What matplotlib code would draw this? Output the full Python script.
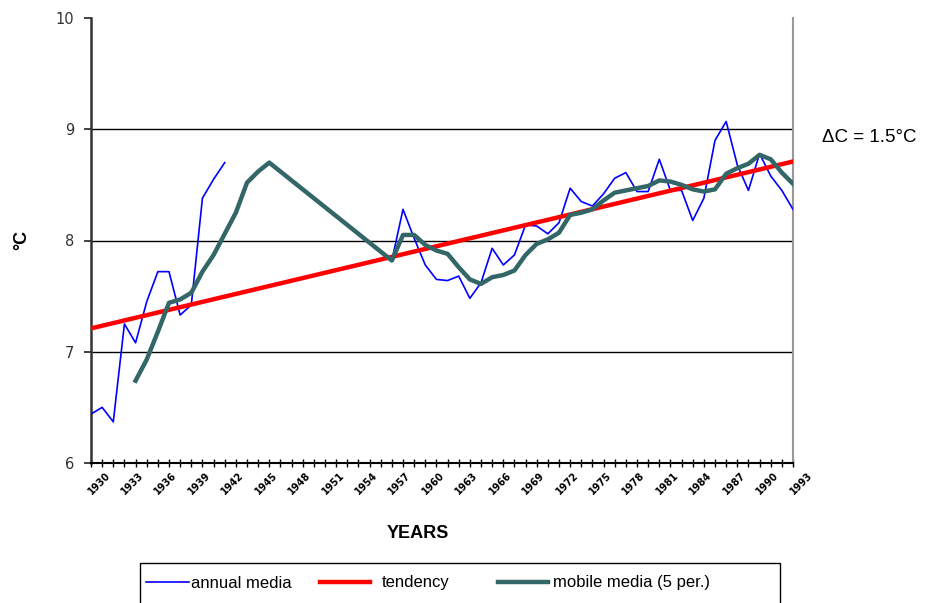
import numpy as np
import matplotlib
matplotlib.use("Agg")
import matplotlib.pyplot as plt
from matplotlib.lines import Line2D
from matplotlib.patches import Rectangle
from matplotlib.transforms import ScaledTranslation

# annual mean temperature (gap 1943-1956)
years_a = list(range(1930, 1943)) + list(range(1957, 1994))
annual = [6.44, 6.50, 6.37, 7.25, 7.08, 7.45, 7.72, 7.72, 7.33, 7.42, 8.38, 8.55, 8.70,
          7.82, 8.28, 8.02, 7.78, 7.65, 7.64, 7.68, 7.48, 7.62, 7.93, 7.78, 7.87, 8.14,
          8.13, 8.06, 8.16, 8.47, 8.35, 8.31, 8.42, 8.56, 8.61, 8.44, 8.44, 8.73, 8.45,
          8.45, 8.18, 8.38, 8.90, 9.07, 8.68, 8.45, 8.78, 8.58, 8.45, 8.28]

# 5-year moving average (drawn straight across the gap)
years_m = list(range(1934, 1947)) + list(range(1957, 1994))
mobile = [6.74, 6.93, 7.18, 7.44, 7.47, 7.53, 7.72, 7.87, 8.06, 8.25, 8.52, 8.62, 8.70,
          7.82, 8.05, 8.05, 7.96, 7.91, 7.88, 7.76, 7.65, 7.61, 7.67, 7.69, 7.73, 7.87,
          7.97, 8.01, 8.07, 8.23, 8.25, 8.28, 8.36, 8.43, 8.45, 8.47, 8.49, 8.54, 8.53,
          8.50, 8.46, 8.44, 8.46, 8.60, 8.65, 8.69, 8.77, 8.73, 8.61, 8.51]

# linear trend end points
years_t = [1930, 1993]
trend = [7.21, 8.71]

label_years = list(range(1930, 1994, 3))

# put NaN in the gap so the annual line breaks
all_years = np.arange(1930, 1994)
annual_full = np.full(len(all_years), np.nan)
for y, v in zip(years_a, annual):
    annual_full[y - 1930] = v

fig = plt.figure(figsize=(9.3, 6.03), dpi=100)
ax = fig.add_axes([91 / 930, 1 - 463 / 603, (793 - 91) / 930, (463 - 18) / 603])

l1, = ax.plot(all_years, annual_full, color='#0000ff', lw=1.2, zorder=3)
l2, = ax.plot(years_t, trend, color='#ff0000', lw=3.2, zorder=4)
l3, = ax.plot(years_m, mobile, color='#336666', lw=3.2, zorder=5,
              solid_joinstyle='round')

ax.set_xlim(1930, 1993)
ax.set_ylim(6, 10)

# gridlines
for g in [7, 8, 9]:
    ax.axhline(g, color='black', lw=1.0, zorder=1)

ax.set_yticks([6, 7, 8, 9, 10])
ax.tick_params(axis='y', direction='out', length=5, width=1.2, colors='#222222',
               labelsize=10.5, labelcolor='#333333', pad=7)
ax.set_xticks(label_years)
ax.set_xticks(all_years, minor=True)
ax.set_xticklabels([str(y) for y in label_years], rotation=45, fontsize=7,
                   fontweight='bold', ha='center', va='top')
ax.tick_params(axis='x', which='both', direction='inout', length=6, width=1.0,
               color='black', pad=2)
for lab in ax.get_xticklabels():
    lab.set_transform(lab.get_transform() + ScaledTranslation(8 / 100, 0, fig.dpi_scale_trans))

ax.spines['top'].set_visible(False)
ax.spines['right'].set_color('#999999')
ax.spines['right'].set_linewidth(1.5)
ax.spines['left'].set_color('#333333')
ax.spines['left'].set_linewidth(1.8)
ax.spines['bottom'].set_color('black')
ax.spines['bottom'].set_linewidth(1.5)

fig.text(418 / 930, 1 - 533 / 603, 'YEARS', ha='center', va='center',
         fontsize=13, fontweight='bold', family='Liberation Sans')
fig.text(22 / 930, 1 - 240 / 603, '°C', ha='center', va='center', rotation=90,
         fontsize=13, fontweight='bold', family='Liberation Sans')
fig.text(869 / 930, 1 - 137 / 603, 'ΔC = 1.5°C', ha='center', va='center',
         fontsize=13.5, family='Liberation Sans')

# legend: frame box + three equally spaced entries
fig.patches.append(Rectangle((140 / 930, -0.01), 640 / 930, 0.01 + 1 - 563 / 603,
                             transform=fig.transFigure, fill=False,
                             edgecolor='black', lw=1.0))
entries = [(l1, 'annual media', 146, 2.6, 0.12),
           (l2, 'tendency', 320, 3.0, 0.7),
           (l3, 'mobile media (5 per.)', 498, 3.0, 0.3)]
for handle, text, x0, hl, hp in entries:
    fig.legend([handle], [text], loc='center left',
               bbox_to_anchor=(x0 / 930, 1 - 583 / 603), frameon=False,
               borderpad=0, borderaxespad=0, handlelength=hl, handletextpad=hp,
               prop={'family': 'Liberation Sans', 'size': 12})

fig.savefig('out.png', dpi=100)
